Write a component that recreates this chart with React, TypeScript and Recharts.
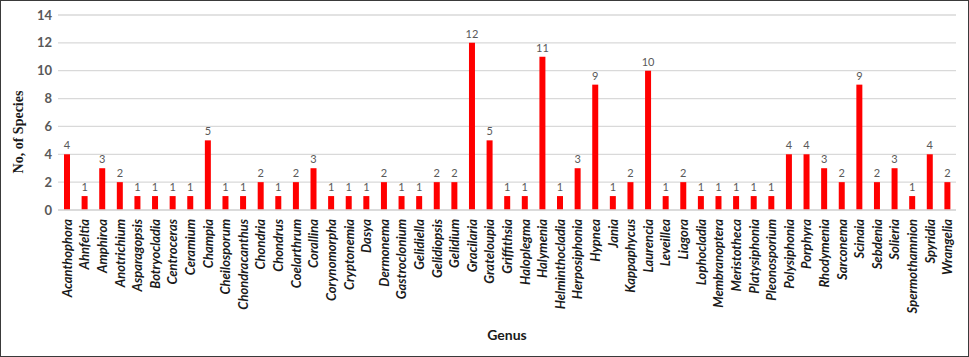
import React from 'react';
import { BarChart, Bar, XAxis, YAxis, CartesianGrid, LabelList, Label } from 'recharts';

const genera = [
  'Acanthophora', 'Ahnfeltia', 'Amphiroa', 'Anotrichium', 'Asparagopsis', 'Botryocladia',
  'Centroceras', 'Ceramium', 'Champia', 'Cheilosporum', 'Chondracanthus', 'Chondria',
  'Chondrus', 'Coelarthrum', 'Corallina', 'Corynomorpha', 'Cryptonemia', 'Dasya',
  'Dermonema', 'Gastroclonium', 'Gelidiella', 'Gelidiopsis', 'Gelidium', 'Gracilaria',
  'Grateloupia', 'Griffithsia', 'Haloplegma', 'Halymenia', 'Helminthocladia', 'Herposiphonia',
  'Hypnea', 'Jania', 'Kappaphycus', 'Laurencia', 'Leveillea', 'Liagora',
  'Lophocladia', 'Membranoptera', 'Meristotheca', 'Platysiphonia', 'Pleonosporium', 'Polysiphonia',
  'Porphyra', 'Rhodymenia', 'Sarconema', 'Scinaia', 'Sebdenia', 'Solieria',
  'Spermothamnion', 'Spyridia', 'Wrangelia',
];

const speciesCounts = [
  4, 1, 3, 2, 1, 1,
  1, 1, 5, 1, 1, 2,
  1, 2, 3, 1, 1, 1,
  2, 1, 1, 2, 2, 12,
  5, 1, 1, 11, 1, 3,
  9, 1, 2, 10, 1, 2,
  1, 1, 1, 1, 1, 4,
  4, 3, 2, 9, 2, 3,
  1, 4, 2,
];

const yTicks = [0, 2, 4, 6, 8, 10, 12, 14];

const data = genera.map((genus, i) => ({ genus, species: speciesCounts[i] }));

const FONT = 'Lato, "Open Sans", sans-serif';

function GenusTick(props: any) {
  const { x, y, payload } = props;
  return (
    <text
      x={x}
      y={y}
      transform={`rotate(-90 ${x} ${y})`}
      textAnchor="end"
      dominantBaseline="central"
      fontFamily={FONT}
      fontStyle="italic"
      fontWeight="bold"
      fontSize={13}
      fill="#1a1a1a"
    >
      {payload.value}
    </text>
  );
}

export default function App() {
  return (
    <div
      style={{
        width: 969,
        height: 357,
        boxSizing: 'border-box',
        border: '1px solid #3a3a3a',
        background: '#fff',
        position: 'relative',
      }}
    >
      <style>{'body{margin:0}'}</style>
      <BarChart
        width={967}
        height={355}
        data={data}
        margin={{ top: 14, right: 12, bottom: 0, left: 0 }}
        barCategoryGap={0}
      >
        <CartesianGrid vertical={false} stroke="#d9d9d9" strokeWidth={1.3} />
        <XAxis
          dataKey="genus"
          interval={0}
          tick={<GenusTick />}
          tickLine={false}
          axisLine={{ stroke: '#d9d9d9', strokeWidth: 1.3 }}
          height={146}
          tickMargin={3}
        >
          <Label
            value="Genus"
            position="insideBottom"
            offset={16}
            style={{ fontFamily: FONT, fontWeight: 'bold', fontSize: 14, fill: '#1a1a1a' }}
          />
        </XAxis>
        <YAxis
          domain={[0, 14]}
          ticks={yTicks}
          width={57}
          tickLine={false}
          axisLine={false}
          tickMargin={0}
          tick={{ fontFamily: FONT, fontWeight: 'bold', fontSize: 13, fill: '#595959' }}
        >
          <Label
            content={() => (
              <text
                x={17}
                y={131}
                transform="rotate(-90 17 131)"
                textAnchor="middle"
                dominantBaseline="central"
                fontFamily='"Liberation Serif", "DejaVu Serif", serif'
                fontWeight="bold"
                fontSize={14}
                fill="#1a1a1a"
              >
                No, of Species
              </text>
            )}
          />
        </YAxis>
        <Bar dataKey="species" fill="#ff0000" barSize={6} isAnimationActive={false}>
          <LabelList
            dataKey="species"
            position="top"
            offset={5}
            style={{ fontFamily: FONT, fontSize: 11, fill: '#595959' }}
          />
        </Bar>
      </BarChart>
    </div>
  );
}
